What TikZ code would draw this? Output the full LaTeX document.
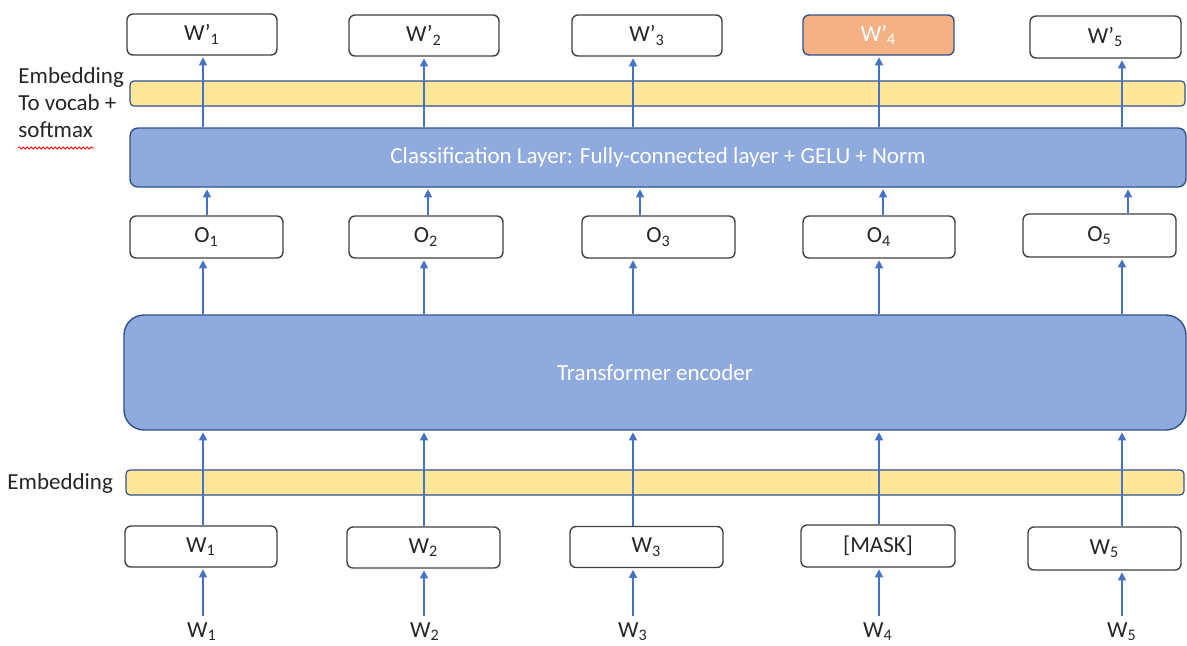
\documentclass[tikz,border=0pt]{standalone}
\usepackage{fontspec}
\setmainfont{Carlito}
\usetikzlibrary{arrows.meta,decorations.pathmorphing}
\definecolor{bfill}{HTML}{8FAADC}
\definecolor{bdraw}{HTML}{2F528F}
\definecolor{yfill}{HTML}{FFE699}
\definecolor{ofill}{HTML}{F4B183}
\definecolor{arrc}{HTML}{4472C4}
\definecolor{gdraw}{HTML}{404040}
\begin{document}
\begin{tikzpicture}[x=0.5pt,y=-0.5pt,
  font=\fontsize{11.5}{13.5}\selectfont,
  wbox/.style={draw=gdraw, fill=white, line width=0.7pt, rounded corners=3pt, inner sep=0pt, text=black!85},
  obox/.style={draw=bdraw, fill=ofill, line width=0.7pt, rounded corners=3pt, inner sep=0pt, text=white},
  ybar/.style={draw=bdraw, fill=yfill, line width=0.6pt, rounded corners=2pt, inner sep=0pt},
  bbar/.style={draw=bdraw, fill=bfill, line width=0.7pt, inner sep=0pt, text=white},
  arr/.style={draw=arrc, line width=0.6pt, -{Triangle[width=4pt,length=4pt]}, shorten >=0.8pt},
  lbl/.style={inner sep=0pt, text=black!85}
]
\useasboundingbox (0,0) rectangle (1187,645);
\clip (0,0) rectangle (1187,645);

% columns
\coordinate (c1) at (203,0);
\coordinate (c2) at (424,0);
\coordinate (c3) at (633,0);
\coordinate (c4) at (879,0);
\coordinate (c5) at (1122,0);
\coordinate (d1) at (207,0);
\coordinate (d2) at (428,0);
\coordinate (d3) at (640,0);
\coordinate (d4) at (883,0);
\coordinate (d5) at (1128,0);

% top output boxes
\node[wbox, minimum width=75pt, minimum height=20.5pt] (wp1) at (202,34.5) {W’\textsubscript{1}};
\node[wbox, minimum width=75pt, minimum height=20.5pt] (wp2) at (424,35.5) {W’\textsubscript{2}};
\node[wbox, minimum width=75pt, minimum height=20.5pt] (wp3) at (647,35.5) {W’\textsubscript{3}};
\node[obox, minimum width=75.5pt, minimum height=20pt] (wp4) at (878.5,35) {W’\textsubscript{4}};
\node[wbox, minimum width=75.5pt, minimum height=21pt] (wp5) at (1105.5,37) {W’\textsubscript{5}};

% bars
\node[ybar, minimum width=527.5pt, minimum height=12.5pt] (ytop) at (657.5,93.5) {};
\node[bbar, rounded corners=4pt, minimum width=528pt, minimum height=29.5pt] (cls) at (658,157.5) {Classification Layer: Fully-connected layer + GELU + Norm};

% O boxes
\node[wbox, minimum width=76.5pt, minimum height=21pt] (o1) at (206.5,237) {O\textsubscript{1}};
\node[wbox, minimum width=77pt, minimum height=21pt] (o2) at (426,237) {O\textsubscript{2}};
\node[wbox, minimum width=76.5pt, minimum height=21pt] (o3) at (658.5,237) {O\textsubscript{3}};
\node[wbox, minimum width=76pt, minimum height=21pt] (o4) at (879,237) {O\textsubscript{4}};
\node[wbox, minimum width=76.5pt, minimum height=21.5pt] (o5) at (1099.5,235.5) {O\textsubscript{5}};

% encoder
\node[bbar, rounded corners=10pt, minimum width=531pt, minimum height=57.5pt] (enc) at (655,372.5) {Transformer encoder};

% bottom embedding bar
\node[ybar, minimum width=529pt, minimum height=12.5pt] (ybot) at (655,482.5) {};

% input boxes
\node[wbox, minimum width=76pt, minimum height=20.5pt] (in1) at (201,546.5) {W\textsubscript{1}};
\node[wbox, minimum width=76.5pt, minimum height=20.5pt] (in2) at (423.5,547.5) {W\textsubscript{2}};
\node[wbox, minimum width=76.5pt, minimum height=20.5pt] (in3) at (646.5,547) {W\textsubscript{3}};
\node[wbox, minimum width=77pt, minimum height=21pt] (in4) at (878,546) {[MASK]};
\node[wbox, minimum width=76.5pt, minimum height=21.5pt] (in5) at (1104.5,548.5) {W\textsubscript{5}};

% bottom labels
\node[lbl, anchor=base] (x1) at (202,637) {W\textsubscript{1}};
\node[lbl, anchor=base] (x2) at (425,637) {W\textsubscript{2}};
\node[lbl, anchor=base] (x3) at (633,637) {W\textsubscript{3}};
\node[lbl, anchor=base] (x4) at (878,637) {W\textsubscript{4}};
\node[lbl, anchor=base] (x5) at (1122,637) {W\textsubscript{5}};

% side labels
\node[lbl, anchor=west] (embl) at (7,483) {Embedding};
\node[lbl, anchor=north west, align=left] (voc) at (18,67) {Embedding\\To vocab +\\softmax};
\coordinate (sq1) at (18,148);
\coordinate (sq2) at (94,148);
\draw[red, line width=0.4pt, decorate, decoration={snake, amplitude=0.5pt, segment length=2pt}] (sq1) -- (sq2);

% arrows
\foreach \i in {1,...,5} {
  \draw[arr] (x\i.north -| c\i) ++(0,-6) coordinate (s\i) -- (in\i.south -| c\i);
  \draw[arr] (in\i.north -| c\i) -- (enc.south -| c\i);
  \draw[arr] (enc.north -| c\i) -- (o\i.south -| c\i);
  \draw[arr] (o\i.north -| d\i) -- (cls.south -| d\i);
  \draw[arr] (cls.north -| c\i) -- (wp\i.south -| c\i);
}
\end{tikzpicture}
\end{document}
